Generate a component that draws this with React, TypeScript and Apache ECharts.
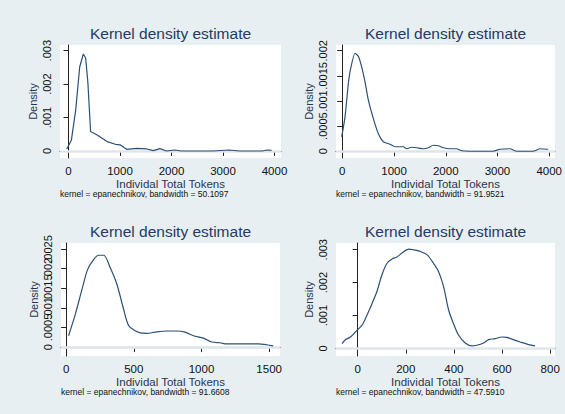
import React, { useEffect, useRef } from "react";
import * as echarts from "echarts";

// Panel 1
const p1X = [-33, 57, 140, 218, 288, 333, 377, 429, 557, 750, 910, 1006, 1130, 1327, 1519, 1647, 1775, 1904, 2063, 2190, 2500, 2800, 3121, 3314, 3763, 3859, 3942];
const p1Y = [0.00006, 0.00033, 0.00123, 0.00252, 0.0029, 0.00278, 0.00203, 0.00058, 0.00048, 0.00028, 0.0002, 0.00018, 0.00005, 0.00008, 0.00006, 0.00001, 0.00007, 0.0, 0.00003, 0.0, 0.0, 0.0, 0.00003, 0.0, 0.0, 0.00003, 0.00002];
// Panel 2
const p2X = [-12, 52, 117, 162, 245, 310, 374, 439, 503, 600, 697, 793, 922, 1019, 1179, 1244, 1341, 1438, 1565, 1662, 1759, 1855, 1952, 2081, 2210, 2307, 2661, 2918, 3047, 3241, 3370, 3691, 3820, 3981];
const p2Y = [0.000285, 0.00068, 0.00135, 0.00165, 0.00195, 0.00189, 0.00168, 0.00138, 0.00102, 0.00065, 0.00035, 0.00019, 0.00014, 0.00009, 0.00009, 0.00005, 0.00008, 0.00007, 0.00005, 0.00007, 0.00012, 0.00011, 0.00007, 0.00005, 0.00005, 0.00001, 0.0, 0.0, 0.00004, 0.00005, 0.0, 0.0, 0.00005, 0.00004];
// Panel 3
const p3X = [18, 68, 117, 159, 203, 240, 277, 326, 375, 424, 461, 498, 547, 596, 670, 744, 818, 879, 940, 1014, 1076, 1137, 1186, 1333, 1420, 1481, 1530];
const p3Y = [0.00029, 0.00084, 0.00147, 0.00198, 0.00223, 0.00234, 0.00234, 0.00202, 0.0016, 0.00097, 0.00055, 0.00044, 0.00036, 0.00035, 0.00039, 0.00041, 0.00041, 0.00038, 0.00029, 0.00023, 0.00013, 0.00011, 0.00008, 0.00008, 0.00008, 0.00006, 0.00003];
// Panel 4
const p4X = [-65, -51, -30, -2, 18, 39, 60, 80, 101, 122, 143, 163, 184, 212, 232, 260, 288, 315, 336, 357, 378, 398, 419, 447, 475, 495, 523, 544, 571, 599, 620, 647, 675, 710, 737];
const p4Y = [0.00015, 0.00027, 0.00035, 0.00056, 0.00071, 0.00102, 0.00137, 0.00173, 0.00224, 0.00259, 0.00272, 0.00278, 0.0029, 0.00302, 0.003, 0.00295, 0.00285, 0.00259, 0.00234, 0.00188, 0.00117, 0.00076, 0.00041, 0.00017, 0.00008, 0.0001, 0.00017, 0.00027, 0.0003, 0.00035, 0.00034, 0.00027, 0.0002, 0.00012, 0.00008];

const xTicks1 = [0, 1000, 2000, 3000, 4000];
const yTicks1 = [0, 0.001, 0.002, 0.003];
const xTicks2 = [0, 1000, 2000, 3000, 4000];
const yTicks2 = [0, 0.0005, 0.001, 0.0015, 0.002];
const xTicks3 = [0, 500, 1000, 1500];
const yTicks3 = [0, 0.0005, 0.001, 0.0015, 0.002, 0.0025];
const xTicks4 = [0, 200, 400, 600, 800];
const yTicks4 = [0, 0.001, 0.002, 0.003];

const titleText = "Kernel density estimate";
const xName = "Individal Total Tokens";
const yName = "Density";
const notes = [
  "kernel = epanechnikov, bandwidth = 50.1097",
  "kernel = epanechnikov, bandwidth = 91.9521",
  "kernel = epanechnikov, bandwidth = 91.6608",
  "kernel = epanechnikov, bandwidth = 47.5910",
];

const FONT = "Liberation Sans, Arial, sans-serif";
const BG = "#e7eff2";
const GRIDC = "#dde7eb";
const LINEC = "#2b5075";
const TITLEC = "#263a66";

const fmtY = (v: number) => (v === 0 ? "0" : String(+v.toFixed(5)).replace(/^0/, ""));

export default function App() {
  const ref = useRef<HTMLDivElement>(null);
  useEffect(() => {
    if (!ref.current) return;
    const chart = echarts.init(ref.current, null, { renderer: "svg" });
    const panels = [
      { x: p1X, y: p1Y, xt: xTicks1, yt: yTicks1, grid: { left: 60, top: 45, width: 221, height: 113 }, xr: [-165, 4126], yr: [-0.00021, 0.00317], smooth: false, split: false },
      { x: p2X, y: p2Y, xt: xTicks2, yt: yTicks2, grid: { left: 336, top: 45, width: 219, height: 113 }, xr: [-122, 4110], yr: [-0.000134, 0.002114], smooth: 0.2, split: false },
      { x: p3X, y: p3Y, xt: xTicks3, yt: yTicks3, grid: { left: 61, top: 243, width: 219, height: 113 }, xr: [-38, 1580], yr: [-0.000227, 0.002652], smooth: 0.3, split: true },
      { x: p4X, y: p4Y, xt: xTicks4, yt: yTicks4, grid: { left: 336, top: 243, width: 219, height: 113 }, xr: [-90, 820], yr: [-0.000226, 0.003204], smooth: 0.3, split: false },
    ];
    const grids = panels.map((p) => ({
      ...p.grid,
      show: true,
      backgroundColor: "#ffffff",
      borderWidth: 0,
      containLabel: false,
    }));
    const xAxes = panels.map((p, i) => ({
      type: "value",
      gridIndex: i,
      min: p.xr[0],
      max: p.xr[1],
      name: xName,
      nameLocation: "middle",
      nameGap: 9,
      nameTextStyle: { fontFamily: FONT, fontSize: 11.5, color: "#2b3550" },
      axisLine: { show: true, lineStyle: { color: "#222", width: 1 } },
      axisTick: { show: true, length: 5, customValues: p.xt, lineStyle: { color: "#222" } },
      axisLabel: { customValues: p.xt, hideOverlap: false, margin: 7, fontFamily: FONT, fontSize: 11.5, color: "#111", formatter: (v: number) => String(v) },
      splitLine: { show: false },
    }));
    const yLabelBase = { hideOverlap: false, rotate: 90, margin: 8, fontFamily: FONT, fontSize: 11, color: "#111", formatter: fmtY };
    const yAxes: any[] = panels.map((p, i) => ({
      type: "value",
      gridIndex: i,
      min: p.yr[0],
      max: p.yr[1],
      name: yName,
      nameLocation: "middle",
      nameGap: 22,
      nameTextStyle: { fontFamily: FONT, fontSize: 11, color: "#2b3550" },
      axisLine: { show: true, lineStyle: { color: "#222", width: 1 } },
      axisTick: { show: true, length: 5, customValues: p.yt, lineStyle: { color: "#222" } },
      axisLabel: { ...yLabelBase, customValues: p.split ? p.yt.filter((_, k) => k % 2 === 0) : p.yt },
      splitLine: { show: false },
    }));
    panels.forEach((p, i) => {
      if (!p.split) return;
      yAxes.push({
        type: "value",
        gridIndex: i,
        position: "left",
        offset: 0,
        min: p.yr[0],
        max: p.yr[1],
        axisLine: { show: false },
        axisTick: { show: false },
        axisLabel: { ...yLabelBase, customValues: p.yt.filter((_, k) => k % 2 === 1) },
        splitLine: { show: false },
      });
    });
    const series = panels.map((p, i) => ({
      type: "line",
      xAxisIndex: i,
      yAxisIndex: i,
      data: p.x.map((v, k) => [v, p.y[k]]),
      showSymbol: false,
      smooth: p.smooth,
      lineStyle: { color: LINEC, width: 1.2 },
      markLine: {
        silent: true,
        symbol: "none",
        label: { show: false },
        lineStyle: { color: GRIDC, width: 1.3, type: "solid" },
        data: p.yt.map((v) => ({ yAxis: v })),
        z: 1,
      },
    }));
    const graphics: any[] = [];
    panels.forEach((p, i) => {
      const cx = p.grid.left + p.grid.width / 2;
      graphics.push({
        type: "text",
        x: cx,
        y: p.grid.top - 12,
        style: { text: titleText, textAlign: "center", textVerticalAlign: "middle", font: `15.5px ${FONT}`, fill: TITLEC },
      });
      graphics.push({
        type: "text",
        x: p.grid.left,
        y: p.grid.top + 149,
        style: { text: notes[i], textAlign: "left", textVerticalAlign: "middle", font: `8.5px ${FONT}`, fill: "#111" },
      });
    });
    chart.setOption({
      animation: false,
      backgroundColor: BG,
      grid: grids,
      xAxis: xAxes,
      yAxis: yAxes,
      series,
      graphic: graphics,
    });
    return () => chart.dispose();
  }, []);
  return <div ref={ref} style={{ position: "fixed", left: 0, top: 0, width: 565, height: 414 }} />;
}
